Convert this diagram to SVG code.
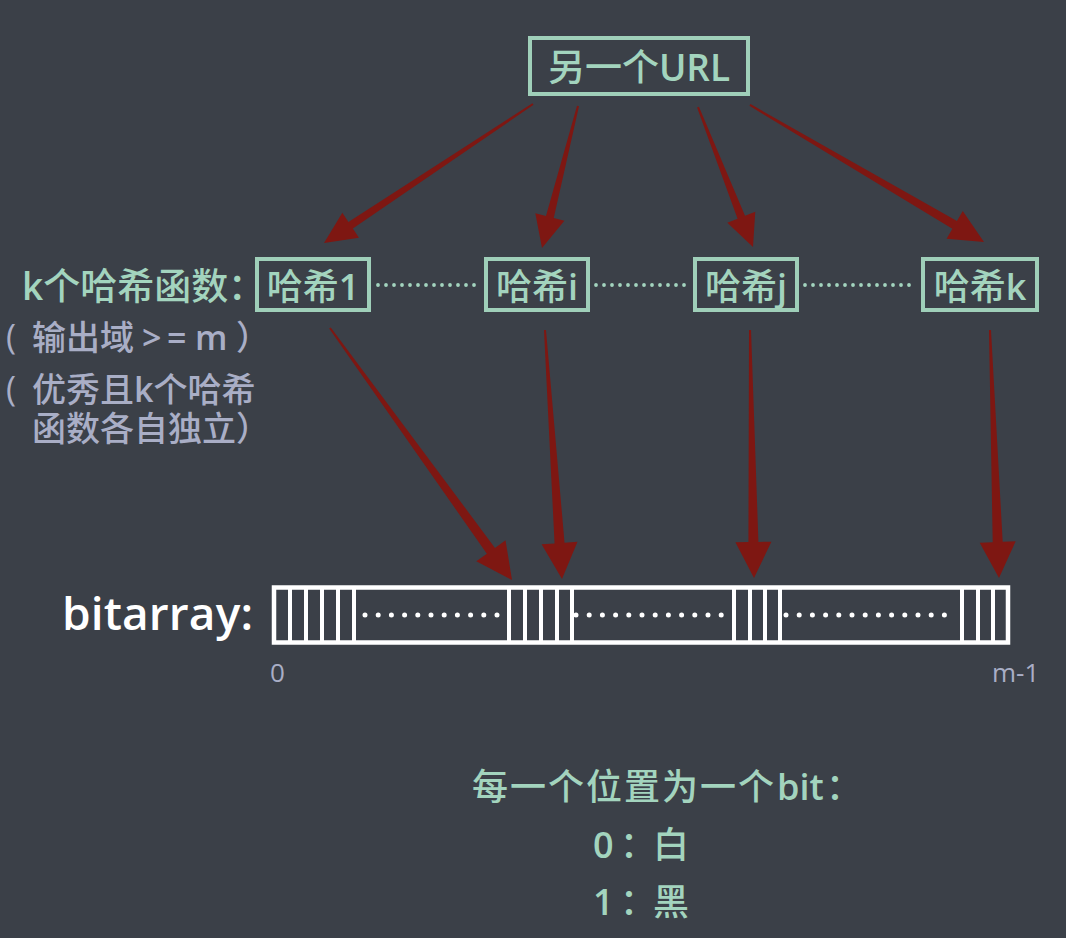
<svg xmlns="http://www.w3.org/2000/svg" width="1066" height="938" viewBox="0 0 1066 938">
  <style>
    .bg { fill: #3b4048; }
    .box { fill: none; stroke: #9fcfb9; stroke-width: 4; }
    .t { font-family: "Open Sans", "Noto Sans CJK SC", sans-serif; font-weight: 500; }
    .lat { font-weight: 600; }
    .green { fill: #a3d4be; }
    .gray { fill: #a9aec6; }
    .dots { fill: none; stroke: #a3d4be; stroke-width: 3.8; stroke-linecap: round; stroke-dasharray: 0 8; }
    .arrow { fill: #7e1712; }
    .cell { fill: none; stroke: #ffffff; stroke-width: 4.5; }
    .div { stroke: #ffffff; stroke-width: 4; }
    .bitdots { fill: none; stroke: #ffffff; stroke-width: 5; stroke-linecap: round; stroke-dasharray: 0 13.2; }
  </style>

  <rect class="bg" x="0" y="0" width="1066" height="938"/>

  <!-- source node -->
  <g id="url">
    <rect class="box" x="530" y="38" width="218" height="56"/>
    <text class="t green" x="639" y="81" font-size="37" text-anchor="middle">另一个<tspan class="lat">URL</tspan></text>
  </g>

  <!-- hash functions -->
  <g id="hash-label">
    <text class="t green" x="22" y="300" font-size="37"><tspan class="lat">k</tspan>个哈希函数<tspan x="228">：</tspan></text>
  </g>
  <g id="hash1">
    <rect class="box" x="257" y="259" width="112" height="51"/>
    <text class="t green" x="313" y="300" font-size="36" text-anchor="middle">哈希<tspan class="lat">1</tspan></text>
  </g>
  <g id="hashi">
    <rect class="box" x="486" y="259" width="102" height="51"/>
    <text class="t green" x="537" y="300" font-size="36" text-anchor="middle">哈希<tspan class="lat">i</tspan></text>
  </g>
  <g id="hashj">
    <rect class="box" x="695" y="259" width="102" height="51"/>
    <text class="t green" x="746" y="300" font-size="36" text-anchor="middle">哈希<tspan class="lat">j</tspan></text>
  </g>
  <g id="hashk">
    <rect class="box" x="923" y="259" width="114" height="51"/>
    <text class="t green" x="980" y="300" font-size="36" text-anchor="middle">哈希<tspan class="lat">k</tspan></text>
  </g>
  <g id="hash-dots">
    <line class="dots" x1="378" y1="285" x2="480" y2="285"/>
    <line class="dots" x1="596" y1="285" x2="690" y2="285"/>
    <line class="dots" x1="805" y1="285" x2="917" y2="285"/>
  </g>

  <!-- notes on the hash functions -->
  <g id="notes">
    <text class="t gray" font-size="34"><tspan x="6" y="349">(</tspan><tspan x="32" y="350">输出域</tspan><tspan class="lat" x="142" y="350">&gt;</tspan><tspan class="lat" x="167" y="350">=</tspan><tspan class="lat" x="195" y="350">m</tspan><tspan x="236" y="350">）</tspan></text>
    <text class="t gray" font-size="34"><tspan x="6" y="401">(</tspan><tspan x="32" y="402">优秀且<tspan class="lat">k</tspan>个哈希</tspan><tspan x="32" y="441">函数各自独立）</tspan></text>
  </g>

  <!-- connectors: tapered arrows, drawn along +x and ending at the tip -->
  <g id="connectors">
    <polygon class="arrow" transform="translate(324,243) rotate(146.37)" points="-251,-1 -32,-4 -32,-15 0,0 -32,15 -32,4 -251,1"/>
    <polygon class="arrow" transform="translate(542,248) rotate(104.23)" points="-146.5,-1 -32,-4 -32,-15 0,0 -32,15 -32,4 -146.5,1"/>
    <polygon class="arrow" transform="translate(753,247) rotate(68.55)" points="-150.4,-1 -32,-4 -32,-15 0,0 -32,15 -32,4 -150.4,1"/>
    <polygon class="arrow" transform="translate(984,242) rotate(30.35)" points="-271.2,-1 -34,-4.5 -34,-16 0,0 -34,16 -34,4.5 -271.2,1"/>

    <polygon class="arrow" transform="translate(512,580) rotate(54.16)" points="-310.9,-1 -36,-5 -36,-18 0,0 -36,18 -36,5 -310.9,1"/>
    <polygon class="arrow" transform="translate(562,579) rotate(86.09)" points="-249.6,-1 -36,-5 -36,-18 0,0 -36,18 -36,5 -249.6,1"/>
    <polygon class="arrow" transform="translate(754,578) rotate(89.08)" points="-248,-1 -36,-5 -36,-18 0,0 -36,18 -36,5 -248,1"/>
    <polygon class="arrow" transform="translate(999,578) rotate(87.92)" points="-248.2,-1 -36,-5 -36,-18 0,0 -36,18 -36,5 -248.2,1"/>
  </g>

  <!-- bit array -->
  <g id="bitarray">
    <text class="t lat" x="62" y="630" font-size="46" fill="#ffffff" textLength="191">bitarray:</text>
    <rect class="cell" x="274" y="587.5" width="734" height="55"/>
    <g class="div">
      <line x1="290" y1="587" x2="290" y2="643"/>
      <line x1="306" y1="587" x2="306" y2="643"/>
      <line x1="322" y1="587" x2="322" y2="643"/>
      <line x1="338" y1="587" x2="338" y2="643"/>
      <line x1="354" y1="587" x2="354" y2="643"/>

      <line x1="509" y1="587" x2="509" y2="643"/>
      <line x1="525" y1="587" x2="525" y2="643"/>
      <line x1="541" y1="587" x2="541" y2="643"/>
      <line x1="557" y1="587" x2="557" y2="643"/>
      <line x1="572" y1="587" x2="572" y2="643"/>

      <line x1="734" y1="587" x2="734" y2="643"/>
      <line x1="750" y1="587" x2="750" y2="643"/>
      <line x1="765" y1="587" x2="765" y2="643"/>
      <line x1="780" y1="587" x2="780" y2="643"/>

      <line x1="962" y1="587" x2="962" y2="643"/>
      <line x1="978" y1="587" x2="978" y2="643"/>
      <line x1="993" y1="587" x2="993" y2="643"/>
    </g>
    <line class="bitdots" x1="365" y1="615" x2="498" y2="615"/>
    <line class="bitdots" x1="576" y1="615" x2="723" y2="615"/>
    <line class="bitdots" x1="786" y1="615" x2="945" y2="615"/>
    <text class="t gray" x="270" y="682" font-size="26">0</text>
    <text class="t gray" x="992" y="682" font-size="26">m-1</text>
  </g>

  <!-- legend -->
  <g id="legend">
    <text class="t green" font-size="36"><tspan x="472" y="800" letter-spacing="2">每一个位置为一个</tspan><tspan class="lat" x="777" y="800">bit</tspan><tspan x="826" y="800">：</tspan></text>
    <text class="t green" font-size="36"><tspan class="lat" x="593" y="858">0</tspan><tspan x="620" y="858">：</tspan><tspan x="653" y="858">白</tspan></text>
    <text class="t green" font-size="36"><tspan class="lat" x="593" y="915">1</tspan><tspan x="620" y="915">：</tspan><tspan x="653" y="915">黑</tspan></text>
  </g>
</svg>
